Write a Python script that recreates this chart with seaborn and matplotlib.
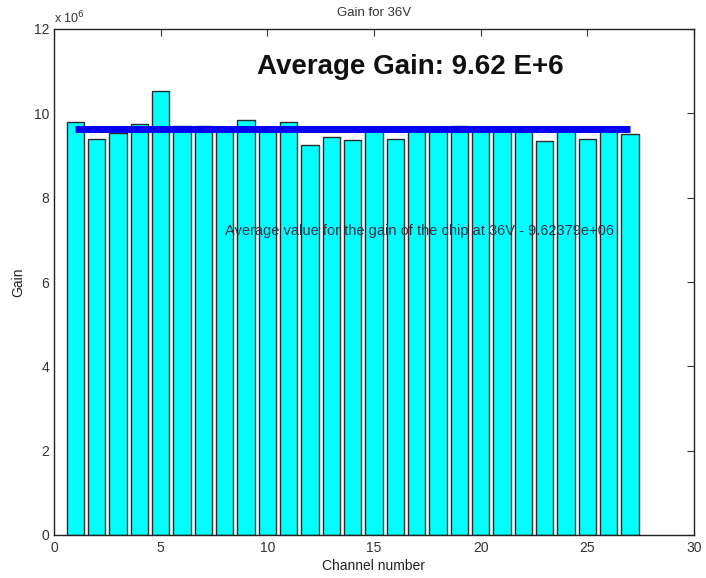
import matplotlib
matplotlib.use("Agg")
import matplotlib.pyplot as plt
import seaborn as sns
import pandas as pd
import numpy as np

# Data (gain in units of 1e6)
channels = list(range(1, 28))
gain_millions = [9.80, 9.40, 9.53, 9.74, 10.54, 9.71, 9.71, 9.63, 9.85, 9.65,
                 9.80, 9.25, 9.43, 9.37, 9.62, 9.40, 9.64, 9.60, 9.71, 9.66,
                 9.63, 9.62, 9.35, 9.64, 9.40, 9.64, 9.52]
average_gain = 9.62379
title_text = "Gain for 36V"
big_label = "Average Gain: 9.62 E+6"
small_label = "Average value for the gain of the chip at 36V - 9.62379e+06"
x_ticks = [0, 5, 10, 15, 20, 25, 30]
y_ticks = [0, 2, 4, 6, 8, 10, 12]

df = pd.DataFrame({"channel": channels, "gain": gain_millions})

sns.set_style("white")
plt.rcParams["font.family"] = ["Liberation Sans", "DejaVu Sans"]

fig = plt.figure(figsize=(7.06, 5.78), dpi=100)
ax = fig.add_axes([54/706, 1-535/578, (694-54)/706, (535-29)/578])

sns.barplot(data=df, x="channel", y="gain", native_scale=True, width=0.8,
            color="#00ffff", saturation=1, edgecolor="#2a2a2a", linewidth=1.0,
            ax=ax)
for p in ax.patches:
    p.set_facecolor("#00ffff")

sns.lineplot(x=[channels[0], channels[-1]], y=[average_gain, average_gain],
             color="#0000ee", linewidth=5, ax=ax, solid_capstyle="butt")

ax.set_xlim(0, 30)
ax.set_ylim(0, 12)
ax.set_xticks(x_ticks)
ax.set_yticks(y_ticks)
ax.tick_params(direction="in", length=5, top=True, right=True, labelsize=10,
               colors="#333333", labelcolor="#333333")
ax.tick_params(axis="x", pad=4)
for s in ax.spines.values():
    s.set_color("#222222")
    s.set_linewidth(1.0)

ax.set_xlabel("Channel number", fontsize=10, color="#222222", labelpad=3)
ax.set_ylabel("Gain", fontsize=10, color="#222222", labelpad=6)
ax.set_title(title_text, fontsize=9.5, color="#333333", pad=9)

ax.text(0, 1.005, r"x 10$^6$", transform=ax.transAxes, fontsize=9,
        color="#333333", ha="left", va="bottom")

ax.text(16.7, 11.09, big_label, fontsize=20, fontweight="bold",
        ha="center", va="center", color="#111111")
ax.text(8.0, 7.2, small_label, fontsize=10.5, ha="left", va="center",
        color="#333344")

fig.savefig("out.png", dpi=100)
